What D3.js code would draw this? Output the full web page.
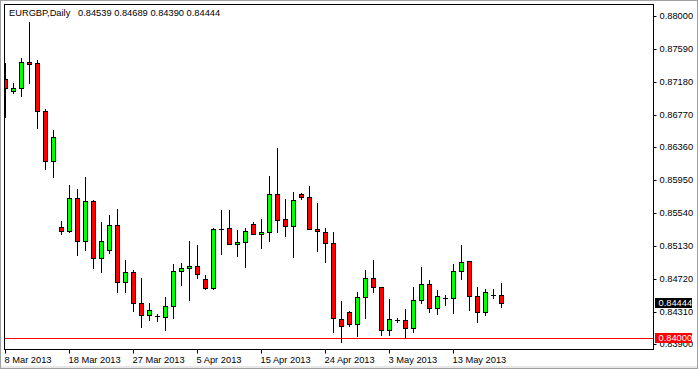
<!DOCTYPE html>
<html>
<head>
<meta charset="utf-8">
<script src="https://cdnjs.cloudflare.com/ajax/libs/d3/7.8.5/d3.min.js"></script>
<style>
  body { margin: 0; background: #fff; }
  text { font-family: Tahoma, "Liberation Sans", Arial, sans-serif; font-size: 9.3px; }
</style>
</head>
<body>
<script>
"use strict";

// EURGBP daily bars, 8 Mar 2013 .. 20 May 2013 (Sunday bars included)
let dates = ["8 Mar", "10 Mar", "11 Mar", "12 Mar", "13 Mar", "14 Mar", "15 Mar", "17 Mar",
             "18 Mar", "19 Mar", "20 Mar", "21 Mar", "22 Mar", "24 Mar", "25 Mar", "26 Mar",
             "27 Mar", "28 Mar", "29 Mar", "31 Mar", "1 Apr", "2 Apr", "3 Apr", "4 Apr",
             "5 Apr", "7 Apr", "8 Apr", "9 Apr", "10 Apr", "11 Apr", "12 Apr", "14 Apr",
             "15 Apr", "16 Apr", "17 Apr", "18 Apr", "19 Apr", "21 Apr", "22 Apr", "23 Apr",
             "24 Apr", "25 Apr", "26 Apr", "28 Apr", "29 Apr", "30 Apr", "1 May", "2 May",
             "3 May", "5 May", "6 May", "7 May", "8 May", "9 May", "10 May", "12 May",
             "13 May", "14 May", "15 May", "16 May", "17 May", "19 May", "20 May"];

let open = [0.87241, 0.87088, 0.87125, 0.8745, 0.87438, 0.86838, 0.8622, 0.85388,
            0.85345, 0.8575, 0.85216, 0.8572, 0.85, 0.851, 0.85413, 0.847,
            0.84829, 0.84438, 0.84288, 0.84275, 0.84263, 0.844, 0.8484, 0.84875,
            0.84904, 0.84738, 0.84625, 0.8537, 0.85375, 0.85175, 0.852, 0.85425,
            0.853, 0.85325, 0.85804, 0.85488, 0.854, 0.85804, 0.85763, 0.85363,
            0.85325, 0.85188, 0.84238, 0.84325, 0.84175, 0.8452, 0.8475, 0.84638,
            0.841, 0.84232, 0.84225, 0.84125, 0.84475, 0.84675, 0.84375, 0.845,
            0.845, 0.84838, 0.84963, 0.84525, 0.84325, 0.8454, 0.84539];

let high = [0.87445, 0.87188, 0.875, 0.87954, 0.87479, 0.86863, 0.86604, 0.8547,
            0.85916, 0.85866, 0.8602, 0.85725, 0.8545, 0.85538, 0.85613, 0.84979,
            0.84854, 0.84757, 0.84438, 0.843, 0.8452, 0.8493, 0.84941, 0.85216,
            0.85166, 0.84791, 0.85379, 0.85604, 0.85604, 0.85354, 0.85379, 0.85454,
            0.85491, 0.86029, 0.86379, 0.85738, 0.85829, 0.85813, 0.85904, 0.8569,
            0.85375, 0.85325, 0.84466, 0.84341, 0.84582, 0.84854, 0.84979, 0.84638,
            0.84488, 0.84257, 0.84366, 0.84638, 0.84895, 0.84729, 0.846, 0.84538,
            0.84925, 0.85163, 0.84963, 0.84638, 0.84613, 0.84613, 0.84689];

let low = [0.86766, 0.8707, 0.87033, 0.87195, 0.86633, 0.86116, 0.8602, 0.853,
           0.85325, 0.8504, 0.85104, 0.84882, 0.84832, 0.85066, 0.84575, 0.84582,
           0.84341, 0.84145, 0.84232, 0.8422, 0.841, 0.8425, 0.84666, 0.84479,
           0.8475, 0.8462, 0.8462, 0.85057, 0.85175, 0.85032, 0.84895, 0.853,
           0.85132, 0.8522, 0.85332, 0.85282, 0.8502, 0.85745, 0.85363, 0.85095,
           0.84957, 0.84082, 0.83957, 0.84157, 0.84032, 0.84257, 0.84582, 0.8404,
           0.8404, 0.84204, 0.84, 0.84082, 0.8444, 0.84329, 0.843, 0.84413,
           0.84313, 0.84738, 0.8435, 0.842, 0.84288, 0.845, 0.8439];

let close = [0.87129, 0.87125, 0.8745, 0.87425, 0.86838, 0.8622, 0.86513, 0.85345,
             0.8575, 0.85216, 0.8572, 0.85, 0.85216, 0.85413, 0.847, 0.84829,
             0.84438, 0.84288, 0.8435, 0.84275, 0.844, 0.8484, 0.84879, 0.84904,
             0.848, 0.84625, 0.85366, 0.8537, 0.85175, 0.852, 0.85338, 0.853,
             0.85325, 0.85804, 0.85482, 0.854, 0.85725, 0.85763, 0.85363, 0.85338,
             0.85188, 0.8425, 0.8415, 0.84175, 0.8452, 0.8475, 0.84638, 0.841,
             0.84245, 0.84232, 0.84125, 0.84475, 0.84679, 0.84375, 0.84525, 0.845,
             0.84838, 0.8495, 0.84525, 0.84325, 0.84575, 0.8454, 0.84444];

let dateTicks = ["8 Mar", "18 Mar", "27 Mar", "5 Apr", "15 Apr", "24 Apr", "3 May", "13 May"];
let priceTicks = [0.88, 0.8759, 0.8718, 0.8677, 0.8636, 0.8595, 0.8554, 0.8513, 0.8472, 0.8431, 0.839];
let levelLine = 0.84;

let w = 698;
let h = 369;
let plot = {left: 4, top: 4, right: 653, bottom: 349};

let bars = dates.map((d, i) => ({date: d, o: open[i], h: high[i], l: low[i], c: close[i]}));
let last = bars[bars.length - 1];
let fmt = d3.format(".5f");

let x = d3.scalePoint()
    .domain(dates)
    .range([5, 5 + 8 * (dates.length - 1)]);

let y = d3.scaleLinear()
    .domain([0.84, 0.88])
    .range([338.3, 18.3]);

let py = v => Math.round(y(v));

let svg = d3.select("body")
    .append("svg")
    .attr("width", w)
    .attr("height", h);

// window border
svg.append("rect")
    .attr("x", 0.5).attr("y", 0.5)
    .attr("width", w - 1).attr("height", h - 1)
    .attr("fill", "#fff")
    .attr("stroke", "#a0a0a0");
svg.append("rect")
    .attr("x", 1).attr("y", h - 3)
    .attr("width", w - 2).attr("height", 2)
    .attr("fill", "#e8e8e8");

svg.append("clipPath")
    .attr("id", "plotclip")
    .append("rect")
    .attr("x", plot.left + 1).attr("y", plot.top + 1)
    .attr("width", plot.right - plot.left - 1)
    .attr("height", plot.bottom - plot.top - 1);

let g = svg.append("g").attr("clip-path", "url(#plotclip)");

// support level
g.append("line")
    .attr("x1", plot.left).attr("x2", plot.right)
    .attr("y1", py(levelLine) + 0.5).attr("y2", py(levelLine) + 0.5)
    .attr("stroke", "#ff0000");

let candle = g.selectAll("g.candle")
    .data(bars)
    .enter().append("g")
    .attr("class", "candle")
    .attr("transform", d => `translate(${Math.round(x(d.date))},0)`);

candle.append("line")
    .attr("x1", 0.5).attr("x2", 0.5)
    .attr("y1", d => py(d.h))
    .attr("y2", d => py(d.l) + 1)
    .attr("stroke", "#000");

let isDoji = d => Math.abs(d.o - d.c) < 0.00002;

candle.filter(d => !isDoji(d))
    .append("rect")
    .attr("x", -1.5)
    .attr("y", d => py(Math.max(d.o, d.c)) + 0.5)
    .attr("width", 4)
    .attr("height", d => Math.max(py(Math.min(d.o, d.c)) - py(Math.max(d.o, d.c)), 1))
    .attr("fill", d => d.c > d.o ? "#00ff00" : "#ff0000")
    .attr("stroke", "#000");

candle.filter(isDoji)
    .append("line")
    .attr("x1", -2).attr("x2", 3)
    .attr("y1", d => py(d.o) + 0.5).attr("y2", d => py(d.o) + 0.5)
    .attr("stroke", "#000");

// frame
svg.append("rect")
    .attr("x", plot.left + 0.5).attr("y", plot.top + 0.5)
    .attr("width", plot.right - plot.left)
    .attr("height", plot.bottom - plot.top)
    .attr("fill", "none")
    .attr("stroke", "#000");

// price axis
let yAxis = svg.append("g")
    .attr("transform", `translate(${plot.right + 0.5},0.5)`)
    .call(d3.axisRight(y).tickValues(priceTicks).tickFormat(fmt).tickSize(3).tickPadding(3));
yAxis.select(".domain").remove();
yAxis.selectAll(".tick").attr("transform", d => `translate(0,${py(d) - 2})`);
yAxis.selectAll("text").attr("fill", "#000").style("font-size", "9.3px");

// date axis
let xAxis = svg.append("g")
    .attr("transform", `translate(0.5,${plot.bottom + 0.5})`)
    .call(d3.axisBottom(x).tickValues(dateTicks).tickFormat(d => d + " 2013").tickSize(4).tickPadding(3));
xAxis.select(".domain").remove();
xAxis.selectAll(".tick").attr("transform", d => `translate(${Math.round(x(d))},0)`);
xAxis.selectAll("text")
    .attr("text-anchor", "start")
    .attr("x", -1)
    .attr("fill", "#000")
    .style("font-size", "9.3px");

// price markers on the axis
let markers = [
    {value: last.c, fill: "#000"},
    {value: levelLine, fill: "#ff0000"}
];
let marker = svg.selectAll("g.marker")
    .data(markers)
    .enter().append("g")
    .attr("class", "marker")
    .attr("transform", d => `translate(655,${py(d.value)})`);
marker.append("rect")
    .attr("x", 0).attr("y", -5)
    .attr("width", 37).attr("height", 10)
    .attr("fill", d => d.fill);
marker.append("text")
    .attr("x", 3.5).attr("y", 0)
    .attr("dy", "0.34em")
    .attr("fill", "#fff")
    .text(d => fmt(d.value));

// title
svg.append("text")
    .attr("x", 9).attr("y", 16)
    .attr("fill", "#000")
    .text("EURGBP,Daily");
svg.append("text")
    .attr("x", 78).attr("y", 16)
    .attr("fill", "#000")
    .text([last.o, last.h, last.l, last.c].map(fmt).join(" "));
</script>
</body>
</html>
